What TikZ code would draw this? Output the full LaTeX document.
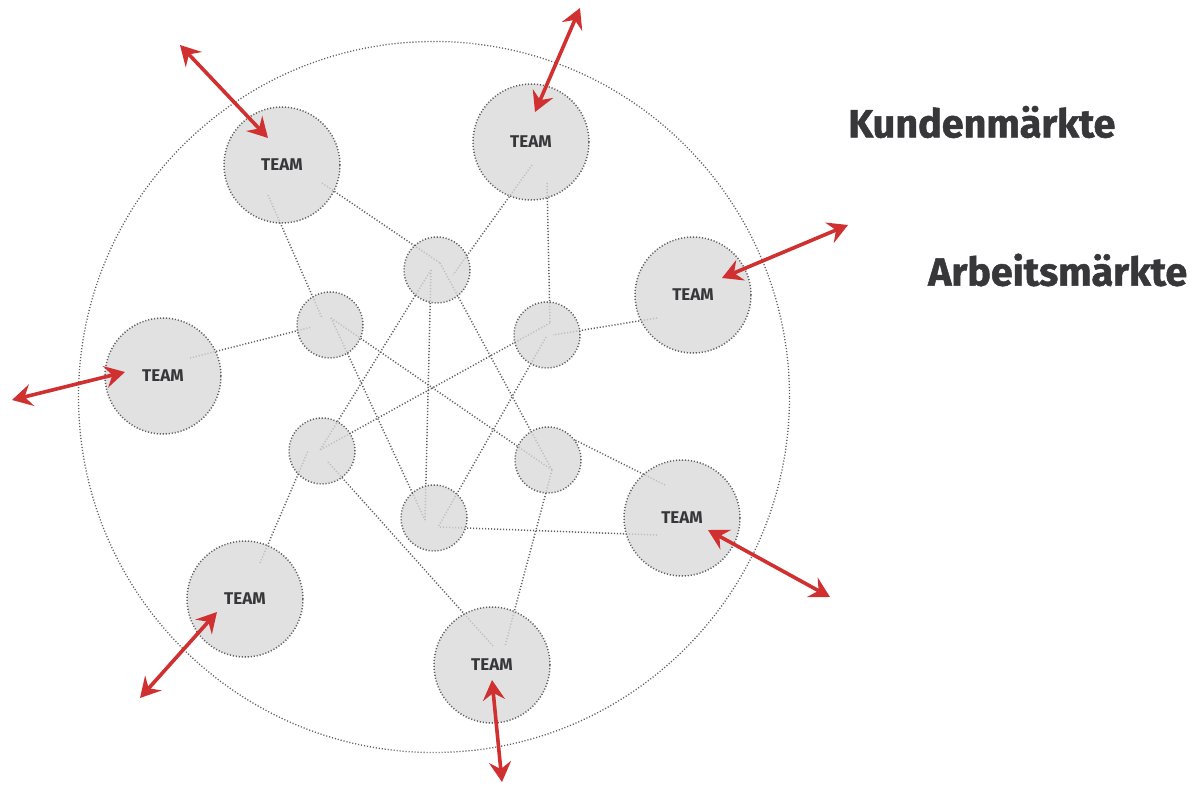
\documentclass[tikz,border=0pt]{standalone}
\usepackage{fontspec}
\setmainfont{Fira Sans}
\newfontfamily\heavyfont{Fira Sans}[BoldFeatures={FakeBold=1.3}]
\usetikzlibrary{arrows.meta}
\definecolor{linegray}{RGB}{95,95,95}
\definecolor{fillgray}{RGB}{217,217,217}
\definecolor{txtgray}{RGB}{55,55,58}
\definecolor{arrred}{RGB}{208,48,48}
\begin{document}
\begin{tikzpicture}[x=1pt,y=-1pt,
  link/.style={draw=linegray,line width=1.5pt,dash pattern=on 1.1pt off 1.9pt},
  teamc/.style={circle,minimum size=116pt,inner sep=0pt,fill=fillgray,fill opacity=0.78,text opacity=1,draw=linegray,line width=1.5pt,dash pattern=on 1.1pt off 1.9pt,font=\bfseries\fontsize{17}{17}\selectfont,text=txtgray},
  smallc/.style={circle,minimum size=66pt,inner sep=0pt,fill=fillgray,fill opacity=0.78,draw=linegray,line width=1.5pt,dash pattern=on 1.1pt off 1.9pt},
  market/.style={anchor=west,font=\heavyfont\bfseries\fontsize{39.5}{40}\selectfont,text=txtgray,inner sep=0pt},
  bidir/.style={draw=arrred,line width=3.6pt,{Stealth[length=20pt,width=22pt,inset=7pt]}-{Stealth[length=20pt,width=22pt,inset=7pt]}}
]
\useasboundingbox (0,0) rectangle (1199,786);
\fill[white] (0,0) rectangle (1199,786);
% outer circle
\node[circle,minimum size=711pt,inner sep=0pt,draw=linegray,line width=1.3pt,dash pattern=on 1.1pt off 1.9pt] (outer) at (434,397) {};

% line end points
\coordinate (t1b) at (268,195); \coordinate (t1a) at (322,183);
\coordinate (t2a) at (532,165); \coordinate (t2c) at (547,183);
\coordinate (t3c) at (657,318);
\coordinate (t4b) at (190,358);
\coordinate (t5e) at (665,485); \coordinate (t5f) at (657,535);
\coordinate (t6d) at (260,563);
\coordinate (t7d) at (493,646); \coordinate (t7e) at (505,646);
\coordinate (a1) at (440,263); \coordinate (a2) at (453,275); \coordinate (a3) at (431,270);
\coordinate (b1) at (322,318); \coordinate (b2) at (312,327); \coordinate (b3) at (331,318);
\coordinate (c1) at (550,323); \coordinate (c2) at (553,335); \coordinate (c3) at (546,337);
\coordinate (d1) at (320,450); \coordinate (d2) at (308,451); \coordinate (d3) at (328,462);
\coordinate (e1) at (552,470); \coordinate (e2) at (575,440);
\coordinate (f1) at (425,520); \coordinate (f2) at (438,527);

% connectors
\draw[link] (t1b) -- (b1);
\draw[link] (t1a) -- (a1);
\draw[link] (t2a) -- (a2);
\draw[link] (t2c) -- (c1);
\draw[link] (t3c) -- (c2);
\draw[link] (t4b) -- (b2);
\draw[link] (t5e) -- (e2);
\draw[link] (t5f) -- (f2);
\draw[link] (t6d) -- (d2);
\draw[link] (d3) -- (t7d);
\draw[link] (e1) -- (t7e);
\draw[link] (a3) -- (d1);
\draw[link] (a3) -- (f1);
\draw[link] (a1) -- (e1);
\draw[link] (b3) -- (f1);
\draw[link] (b3) -- (e1);
\draw[link] (c1) -- (d1);
\draw[link] (c3) -- (f2);

% small circles
\node[smallc] (sa) at (437,270) {};
\node[smallc] (sb) at (330,325) {};
\node[smallc] (sc) at (547,335) {};
\node[smallc] (sd) at (322,451) {};
\node[smallc] (se) at (548,460) {};
\node[smallc] (sf) at (434,518) {};

% team circles
\node[teamc] (T1) at (282,165) {TEAM};
\node[teamc] (T2) at (531,142) {TEAM};
\node[teamc] (T3) at (693,295) {TEAM};
\node[teamc] (T4) at (163,376) {TEAM};
\node[teamc] (T5) at (682,518) {TEAM};
\node[teamc] (T6) at (245,599) {TEAM};
\node[teamc] (T7) at (492,665) {TEAM};

% red arrows
\coordinate (r1o) at (180,45);  \coordinate (r1i) at (268,138);
\coordinate (r2o) at (580,8);   \coordinate (r2i) at (535,112);
\coordinate (r3o) at (848,225); \coordinate (r3i) at (722,278);
\coordinate (r4o) at (12,400);  \coordinate (r4i) at (125,372);
\coordinate (r5o) at (830,597); \coordinate (r5i) at (708,530);
\coordinate (r6o) at (140,698); \coordinate (r6i) at (217,612);
\coordinate (r7o) at (502,782); \coordinate (r7i) at (492,680);
\foreach \k in {1,...,7} {\draw[bidir] (r\k o) -- (r\k i);}

% labels
\node[market] (kunden) at (848,122) {Kundenmärkte};
\node[market] (arbeit) at (928,270) {Arbeitsmärkte};
\end{tikzpicture}
\end{document}
